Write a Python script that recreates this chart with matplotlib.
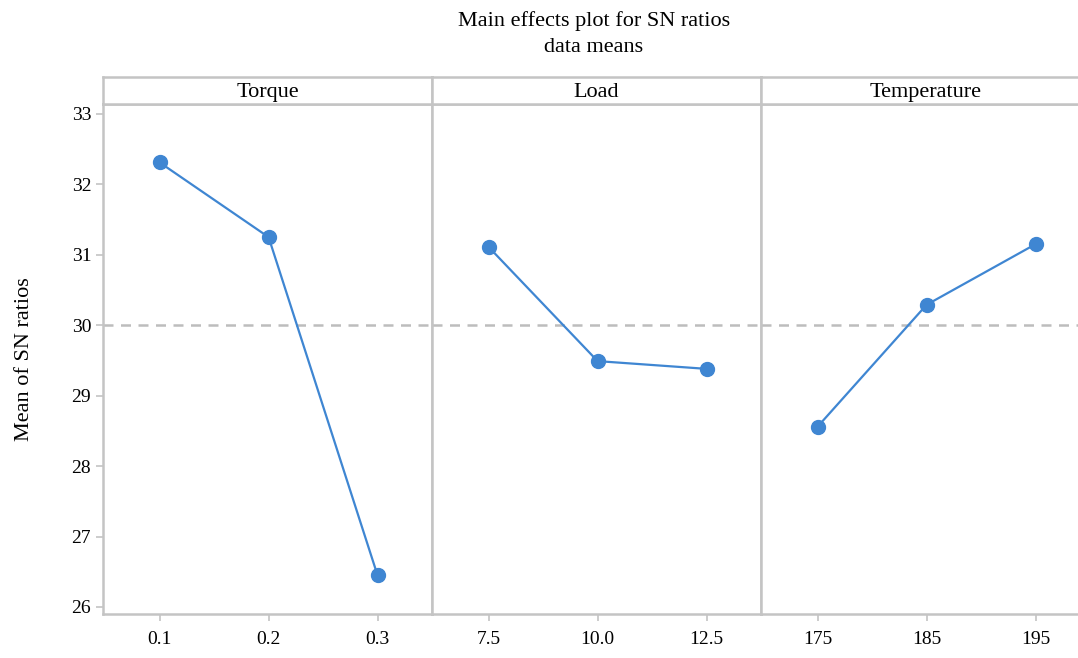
import matplotlib
matplotlib.use("Agg")
import matplotlib.pyplot as plt

plt.rcParams['font.family'] = ['Liberation Serif', 'DejaVu Serif']

# factor names and levels
factors = ["Torque", "Load", "Temperature"]
torque_levels = ["0.1", "0.2", "0.3"]
load_levels = ["7.5", "10.0", "12.5"]
temp_levels = ["175", "185", "195"]

# mean SN ratios
torque_sn = [32.31, 31.25, 26.45]
load_sn = [31.11, 29.49, 29.38]
temp_sn = [28.56, 30.29, 31.15]

levels = [torque_levels, load_levels, temp_levels]
means = [torque_sn, load_sn, temp_sn]
overall_mean = 30.0

line_col = "#3f86d2"
grid_col = "#c4c4c4"

fig = plt.figure(figsize=(10.78, 6.58), dpi=100)

left = 103 / 1078
width = 329 / 1078
bottom = 1 - 614 / 658
top = 1 - 104 / 658
strip_top = 1 - 77 / 658

for i in range(3):
    x0 = left + i * width
    ax = fig.add_axes([x0, bottom, width, top - bottom])
    xs = range(len(levels[i]))
    ax.axhline(overall_mean, color="#bdbdbd", lw=1.8, ls=(0, (4, 3)), zorder=1)
    ax.plot(xs, means[i], color=line_col, lw=1.6, marker="o", markersize=10, zorder=3)
    ax.set_xlim(-0.52, 2.5)
    ax.set_ylim(25.9, 33.14)
    ax.set_xticks(list(xs))
    ax.set_xticklabels(levels[i])
    ax.set_yticks(range(26, 34))
    for sp in ax.spines.values():
        sp.set_color(grid_col)
        sp.set_linewidth(1.8)
    ax.tick_params(axis="both", colors=grid_col, labelcolor="black", labelsize=14,
                   length=5, width=1.2)
    ax.tick_params(axis="x", pad=7)
    if i == 0:
        ax.set_ylabel("Mean of SN ratios", fontsize=16)
        ax.yaxis.set_label_coords(-0.21, 0.5)
    else:
        ax.tick_params(axis="y", left=False, labelleft=False)

    # strip with factor name
    sax = fig.add_axes([x0, top, width, strip_top - top])
    sax.set_xticks([])
    sax.set_yticks([])
    for sp in sax.spines.values():
        sp.set_color(grid_col)
        sp.set_linewidth(1.8)
    sax.text(0.5, 0.42, factors[i], ha="center", va="center", fontsize=16,
             transform=sax.transAxes)

fig.text(594 / 1078, 1 - 21 / 658, "Main effects plot for SN ratios",
         ha="center", va="center", fontsize=16)
fig.text(594 / 1078, 1 - 48 / 658, "data means",
         ha="center", va="center", fontsize=16)

fig.savefig("out.png", dpi=100)
